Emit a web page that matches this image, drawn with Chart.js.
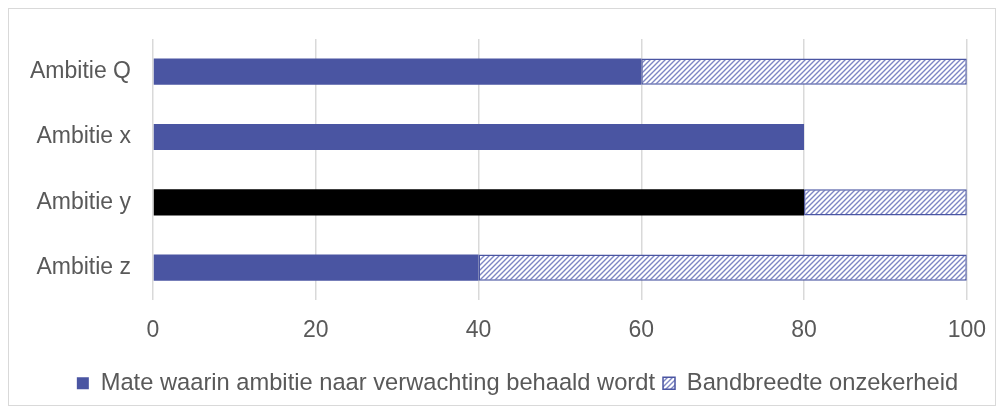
<!DOCTYPE html>
<html>
<head>
<meta charset="utf-8">
<script src="https://cdn.jsdelivr.net/npm/chart.js@4"></script>
<style>
  html, body { margin: 0; padding: 0; background: #fff; }
  #frame { position: absolute; left: 8px; top: 8px; width: 986px; height: 396px; border: 1px solid #d9d9d9; }
  #wrap { position: absolute; left: 0; top: 0; width: 1003px; height: 412px; }
</style>
</head>
<body>
<div id="frame"></div>
<div id="wrap"><canvas id="chart" width="1003" height="412"></canvas></div>
<script>
// Chart data
const categories = ["Ambitie Q", "Ambitie x", "Ambitie y", "Ambitie z"];
const expected = [60, 80, 80, 40];
const uncertainty = [40, 0, 20, 60];
const seriesNames = ["Mate waarin ambitie naar verwachting behaald wordt", "Bandbreedte onzekerheid"];
const xTicks = [0, 20, 40, 60, 80, 100];

const blue = "#4a55a2";
const grey = "#595959";
const fontFamily = "Liberation Sans, Arial, sans-serif";

// diagonal hatch pattern
function makeHatch() {
  const c = document.createElement("canvas");
  c.width = 5; c.height = 5;
  const g = c.getContext("2d");
  g.fillStyle = "#fff";
  g.fillRect(0, 0, 5, 5);
  g.strokeStyle = "#7d86c4";
  g.lineWidth = 1.4;
  g.beginPath();
  g.moveTo(-1, 6); g.lineTo(6, -1);
  g.moveTo(-1, 1); g.lineTo(1, -1);
  g.moveTo(4, 6); g.lineTo(6, 4);
  g.stroke();
  return g.createPattern(c, "repeat");
}
const hatch = makeHatch();

// legend sits a bit right of the canvas centre in the original
const shiftLegend = {
  id: "shiftLegend",
  afterLayout(chart) {
    chart.legend.left += 24;
    chart.legend.right += 24;
  }
};

const ctx = document.getElementById("chart").getContext("2d");
new Chart(ctx, {
  type: "bar",
  data: {
    labels: categories,
    datasets: [
      {
        label: seriesNames[0],
        data: expected,
        backgroundColor: categories.map((c, i) => i === 2 ? "#000" : blue),
        borderWidth: 0,
        barPercentage: 0.4,
        categoryPercentage: 1
      },
      {
        label: seriesNames[1],
        data: uncertainty,
        backgroundColor: hatch,
        borderColor: blue,
        borderWidth: 1.5,
        borderSkipped: false,
        barPercentage: 0.4,
        categoryPercentage: 1
      }
    ]
  },
  options: {
    indexAxis: "y",
    responsive: false,
    animation: false,
    layout: { padding: { top: 39, right: 16, left: 0, bottom: 7 } },
    scales: {
      x: {
        stacked: true,
        min: 0, max: 100,
        afterBuildTicks: (s) => { s.ticks = xTicks.map(v => ({ value: v })); },
        border: { display: false },
        grid: { color: "#d9d9d9", lineWidth: 1.5, drawTicks: false },
        ticks: { color: grey, font: { family: fontFamily, size: 23 }, padding: 17 },
        afterFit: (s) => { s.height = 63; }
      },
      y: {
        stacked: true,
        border: { display: false },
        grid: { display: false },
        ticks: { color: grey, font: { family: fontFamily, size: 23 }, padding: 14 },
        afterFit: (s) => { s.width = 153; }
      }
    },
    plugins: {
      legend: {
        position: "bottom",
        labels: {
          color: grey,
          font: { family: fontFamily, size: 23.7 },
          boxWidth: 12,
          boxHeight: 12,
          padding: 8
        }
      },
      tooltip: { enabled: false }
    }
  },
  plugins: [shiftLegend]
});
</script>
</body>
</html>
